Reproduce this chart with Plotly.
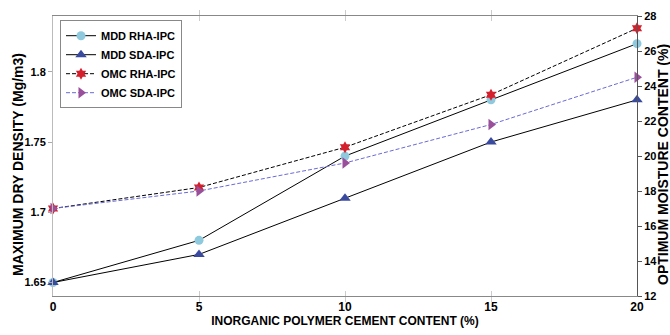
import plotly.graph_objects as go

x = [0, 5, 10, 15, 20]
mdd_rha = [1.65, 1.68, 1.74, 1.78, 1.82]
mdd_sda = [1.65, 1.67, 1.71, 1.75, 1.78]
omc_rha = [17.0, 18.2, 20.5, 23.5, 27.3]
omc_sda = [17.0, 18.0, 19.6, 21.8, 24.5]
names = ["MDD RHA-IPC", "MDD SDA-IPC", "OMC RHA-IPC", "OMC SDA-IPC"]
left_ticks = [1.65, 1.7, 1.75, 1.8]
right_ticks = [12, 14, 16, 18, 20, 22, 24, 26, 28]

FONT = "Liberation Sans, Arial, sans-serif"
L, R, T, B = 53, 33, 16, 39
PW = 670 - L - R
PH = 335 - T - B

fig = go.Figure()
fig.add_trace(go.Scatter(x=x, y=mdd_rha, name=f"<b>{names[0]}</b>", mode="lines+markers",
                         line=dict(color="black", width=1), cliponaxis=False,
                         marker=dict(symbol="circle", size=9, color="#8ec9dd")))
fig.add_trace(go.Scatter(x=x, y=mdd_sda, name=f"<b>{names[1]}</b>", mode="lines+markers",
                         line=dict(color="black", width=1), cliponaxis=False,
                         marker=dict(symbol="triangle-up", size=10, color="#3a4a9e")))
fig.add_trace(go.Scatter(x=x, y=omc_rha, name=f"<b>{names[2]}</b>", mode="lines+markers", yaxis="y2",
                         line=dict(color="black", width=1, dash="4px,2px"), cliponaxis=False,
                         marker=dict(symbol="hexagram", size=9, color="#d4202c")))
fig.add_trace(go.Scatter(x=x, y=omc_sda, name=f"<b>{names[3]}</b>", mode="lines+markers", yaxis="y2",
                         line=dict(color="#6a6ad8", width=1, dash="4px,2px"), cliponaxis=False,
                         marker=dict(symbol="triangle-right", size=10, color="#9a4f9a")))

fig.update_layout(
    width=670, height=335,
    margin=dict(l=L, r=R, t=T, b=B, autoexpand=False),
    plot_bgcolor="white", paper_bgcolor="white",
    font=dict(family=FONT, size=12, color="black"),
    showlegend=True,
    legend=dict(x=0.012, y=0.985, xanchor="left", yanchor="top",
                bgcolor="white", bordercolor="#888888", borderwidth=1,
                font=dict(family=FONT, size=11, color="black"),
                tracegroupgap=2, itemwidth=30),
    xaxis=dict(range=[0, 20], tickvals=x, ticktext=[f"<b>{v}</b>" for v in x],
               showgrid=False, showline=True, linecolor="#888888", linewidth=1,
               mirror="allticks", ticks="inside", ticklen=5, tickcolor="#cccccc",
               tickfont=dict(family=FONT, size=12, color="black"),
               title=dict(text="<b>INORGANIC POLYMER CEMENT CONTENT (%)</b>",
                          font=dict(family=FONT, size=12), standoff=3),
               zeroline=False),
    yaxis=dict(range=[1.6404, 1.8397], tickvals=left_ticks,
               ticktext=[f"<b>{v}</b>" for v in left_ticks],
               tickfont=dict(family=FONT, size=11, color="black"),
               showgrid=False, showline=True, linecolor="#bbbbbb", linewidth=1,
               ticks="outside", ticklen=4, tickcolor="#aaaaaa",
               zeroline=False),
    yaxis2=dict(range=[12, 28], tickvals=right_ticks,
                ticktext=[f"<b>{v}</b>" for v in right_ticks],
                tickfont=dict(family=FONT, size=11, color="black"),
                overlaying="y", side="right", showgrid=False,
                showline=True, linecolor="#555555", linewidth=1,
                ticks="outside", ticklen=4, tickcolor="#555555",
                zeroline=False),
    annotations=[
        dict(text="<b>MAXIMUM DRY DENSITY (Mg/m3)</b>", textangle=-90,
             xref="paper", yref="paper", x=(18 - L) / PW, y=(335 - B - 165) / PH,
             xanchor="center", yanchor="middle", showarrow=False,
             font=dict(family=FONT, size=14, color="black")),
        dict(text="<b>OPTIMUM MOISTURE CONTENT (%)</b>", textangle=-90,
             xref="paper", yref="paper", x=(663 - L) / PW, y=(335 - B - 165) / PH,
             xanchor="center", yanchor="middle", showarrow=False,
             font=dict(family=FONT, size=14, color="black")),
    ],
)

fig.write_html("out.html", config={"displayModeBar": False},
               post_script="document.body.style.margin='0';document.body.style.overflow='hidden';")
